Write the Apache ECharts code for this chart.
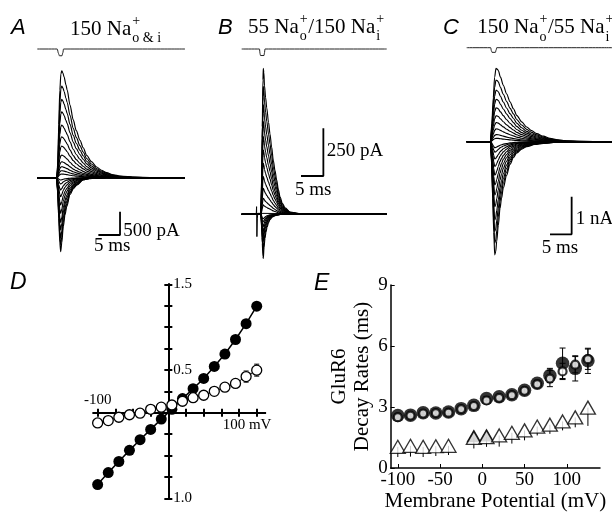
<!DOCTYPE html>
<html><head><meta charset="utf-8">
<script src="https://cdn.jsdelivr.net/npm/echarts@6/dist/echarts.min.js"></script>
<style>html,body{margin:0;padding:0;background:#fff}#c{width:612px;height:513px}</style>
</head><body><div id="c"></div>
<script>
// ================= DATA =================
// Panel A: 150 Na o&i  (time in ms, current in pA)
const tA_pos = [0,4.5,4.75,4.95,5.2,5.45,5.65,5.9,6.2,6.6,6.9,7.55,8.3,9.0,9.85,10.6,11.4,12.5,13.7,14.8,16.0,17.5,19.1,22.6,26,34.1];
const shapeA_pos = [0,0,0.15,0.5,0.82,0.97,1.0,0.98,0.94,0.87,0.82,0.68,0.54,0.44,0.35,0.28,0.21,0.15,0.10,0.07,0.047,0.028,0.015,0.004,0.001,0];
const tA_neg = [0,4.45,4.7,4.95,5.2,5.4,5.65,6.0,6.4,6.8,7.55,8.3,9.1,10.6,12,13.3,16,34.1];
const shapeA_neg = [0,0,0.2,0.55,0.88,1.0,0.88,0.66,0.5,0.39,0.23,0.15,0.1,0.03,0.012,0.005,0.001,0];
const peakA_pos = [2296,1967,1681,1416,1130,880,680,487,343,236,150,79];
const peakA_neg = [-1588,-1445,-1302,-1123,-966,-766,-587,-408,-265,-136,-50];
const stimA_t = [0,4.6,4.9,5.1,5.7,5.9,6.05,34.1];
const stimA_v = [0,0,-0.6,-0.9,-0.9,-0.5,0,0];
const scaleA = [[14.1,-1230],[19.1,-1230],[19.1,-730]]; // 5 ms x 500 pA

// Panel B: 55 Na o / 150 Na i (pA)
const tB_pos = [0,4.3,4.45,4.6,4.75,4.83,4.95,5.1,5.35,5.6,6.0,6.33,6.7,7.07,7.45,7.83,8.2,8.57,9.1,9.7,10.8,13,32.44];
const shapeB_pos = [0,0,0.25,0.6,0.92,1.0,0.97,0.88,0.8,0.73,0.63,0.55,0.46,0.37,0.3,0.235,0.17,0.12,0.075,0.045,0.015,0.004,0];
const tB_neg = [0,4.3,4.45,4.6,4.75,4.83,5.0,5.2,5.45,5.66,6.0,6.33,6.9,7.45,8.57,32.44];
const shapeB_neg = [0,0,0.3,0.65,0.95,1.0,0.75,0.55,0.4,0.3,0.19,0.12,0.06,0.03,0.005,0];
const peakB_pos = [765,669,573,486,407,337,267,197,136,84,49];
const peakB_neg = [-231,-187,-143,-117,-91,-65,-44,-26];
const artB_t = [0,3.25,3.33,3.4,3.5,3.6,3.8,32.44];
const artB_v = [0,0,40,-117,-20,5,0,0];
const stimB_t = [0,3.98,4.1,4.2,4.99,5.1,5.2,32.44];
const stimB_v = [0,0,-0.6,-0.87,-0.87,-0.5,0,0];
const scaleB = [[13.27,200.7],[18.27,200.7],[18.27,450.7]]; // 5 ms x 250 pA

// Panel C: 150 Na o / 55 Na i (nA)
const tC_pos = [0,5.5,5.8,6.14,6.45,6.77,7.05,7.3,7.8,8.45,9.24,10.0,10.8,11.55,12.7,13.86,15,16.17,17.7,19.24,21,23.1,26,33.56];
const shapeC_pos = [0,0,0.25,0.6,0.88,1.0,0.99,0.97,0.88,0.77,0.65,0.545,0.45,0.36,0.27,0.2,0.15,0.11,0.075,0.045,0.025,0.01,0.004,0];
const tC_neg = [0,5.5,5.75,6.0,6.25,6.47,6.7,6.93,7.3,7.69,8.05,8.45,9.2,10.0,10.8,11.55,12.7,13.86,15.7,17.7,20,23.1,33.56];
const shapeC_neg = [0,0,0.2,0.5,0.8,1.0,0.97,0.88,0.74,0.59,0.5,0.41,0.3,0.2,0.14,0.1,0.065,0.044,0.025,0.015,0.007,0.003,0];
const peakC_pos = [1.95,1.64,1.37,1.13,0.90,0.69,0.51,0.34,0.19,0.09];
const peakC_neg = [-3.01,-2.70,-2.39,-2.08,-1.73,-1.42,-1.15,-0.89,-0.66,-0.46,-0.28,-0.16];
const stimC_t = [0,5.54,5.7,5.84,6.63,6.8,6.93,33.56];
const stimC_v = [0,0,-0.4,-0.62,-0.62,-0.3,0,0];
const scaleC = [[19.24,-2.463],[24.24,-2.463],[24.24,-1.463]]; // 5 ms x 1 nA

// Panel D: I-V (normalized current vs mV)
const voltD = [-100,-85,-70,-55,-40,-25,-10,5,20,35,50,65,80,95,110,125];
const filledD = [-0.84,-0.70,-0.57,-0.44,-0.315,-0.195,-0.075,0.04,0.165,0.28,0.40,0.54,0.685,0.855,1.04,1.245];
const openD = [-0.12,-0.092,-0.053,-0.024,-0.006,0.04,0.065,0.09,0.134,0.175,0.204,0.25,0.298,0.342,0.422,0.497];
const openErrD = [0.02,0.02,0.02,0.02,0.02,0.02,0.02,0.02,0.02,0.02,0.02,0.03,0.03,0.045,0.065,0.07];
const dXTicks = [-100,-75,-50,-25,25,50,75,100,125];
const dYTicks = [-1,-0.75,-0.5,-0.25,0.25,0.5,0.75,1,1.25,1.5];
const dXLabelTop = {'-100':'-100'};
const dXLabelBottom = {'100':'100 mV'};
const dYLabels = {'1.5':'1.5','0.5':'0.5','-1':'1.0'};

// Panel E: decay rates (ms) vs membrane potential (mV)
const voltE = [-100,-85,-70,-55,-40,-25,-10,5,20,35,50,65,80,95,110,125];
const filledE = [2.58,2.6,2.72,2.7,2.75,2.92,3.08,3.42,3.5,3.6,3.82,4.17,4.55,5.15,4.9,5.27];
const filledErrE = [0.08,0.08,0.08,0.08,0.08,0.08,0.1,0.1,0.1,0.1,0.12,0.15,0.35,0.75,0.62,0.62];
const openE = [2.5,2.58,2.68,2.7,2.72,2.9,3.05,3.32,3.45,3.58,3.8,4.12,4.4,4.75,5.08,5.35];
const openErrE = [0.08,0.08,0.08,0.08,0.08,0.08,0.1,0.1,0.1,0.1,0.12,0.15,0.4,0.4,0.4,0.5];
const triE = [1.04,1.09,1.04,1.07,1.09,null,1.48,1.52,1.6,1.73,1.85,2.04,2.13,2.29,2.49,2.97];
const triErrE = [0.5,0.53,0.5,0.48,0.45,null,0.52,0.48,0.55,0.53,0.49,0.44,0.45,0.44,0.49,0.9];
const triFilledE = [null,null,null,null,null,null,1.58,1.62,null,null,null,null,null,null,null,null];
const eXTicks = [-100,-50,0,50,100];

// ================= BUILD =================
const SERIF = '"Liberation Serif","Times New Roman",serif';
const SANS = '"Liberation Sans",Arial,sans-serif';
const INK = '#000';

const grids = [
  {left:37.3, top:60, width:147.7, height:200},   // 0 A traces
  {left:37.3, top:45.25, width:147.7, height:15}, // 1 A stim
  {left:241.7, top:60, width:145, height:205},    // 2 B traces
  {left:241.7, top:45.25, width:145, height:15},  // 3 B stim
  {left:466.7, top:60, width:145.3, height:202},  // 4 C traces
  {left:466.7, top:43.95, width:145.3, height:15},// 5 C stim
  {left:93.4, top:284.3, width:171.8, height:214},// 6 D
  {left:390.7, top:285, width:209.3, height:186.7}// 7 E
];
const hid = (g, min, max) => ({gridIndex:g, type:'value', min, max, show:false});
const xAxes = [
  hid(0,0,34.1), hid(1,0,34.1), hid(2,0,32.44), hid(3,0,32.44), hid(4,0,33.56), hid(5,0,33.56)
];
const yAxes = [
  hid(0,-1766,2526), hid(1,-1.5,0.5), hid(2,-265.7,808.5), hid(3,-1.5,0.5), hid(4,-3.2,2.173), hid(5,-1.5,0.5)
];
const axLine = {onZero:false, lineStyle:{color:INK, width:2}};
// D axes: lines crossing at (0,0); positions set through offsets from the grid edges
const dGrid = grids[6];
const dZeroY = dGrid.top + dGrid.height * (1.5 / 2.5);     // y of value 0
const dZeroX = dGrid.left + dGrid.width * (106 / 243);     // x of 0 mV
xAxes.push({gridIndex:6, type:'value', min:-106, max:137, position:'bottom',
  offset: -(dGrid.top + dGrid.height - dZeroY),
  axisLine:axLine, splitLine:{show:false},
  axisTick:{show:true, customValues:dXTicks, length:4, lineStyle:{color:INK,width:2}},
  axisLabel:{customValues:[100], formatter:v=>dXLabelBottom[String(v)]||'', margin:5, padding:[0,0,0,16],
    fontFamily:SERIF, fontSize:15, color:INK}});
xAxes.push({gridIndex:6, type:'value', min:-106, max:137, position:'top',
  offset: -(dZeroY - dGrid.top),
  axisLine:axLine, splitLine:{show:false},
  axisTick:{show:true, customValues:dXTicks, length:4, lineStyle:{color:INK,width:2}},
  axisLabel:{customValues:[-100], formatter:v=>dXLabelTop[String(v)]||'', margin:5,
    fontFamily:SERIF, fontSize:15, color:INK}});
yAxes.push({gridIndex:6, type:'value', min:-1, max:1.5, position:'left',
  offset: -(dZeroX - dGrid.left),
  axisLine:axLine, splitLine:{show:false},
  axisTick:{show:true, customValues:dYTicks, length:4, lineStyle:{color:INK,width:2}},
  axisLabel:{customValues:[-1,0.5,1.5], inside:true, formatter:v=>dYLabels[String(v)]||'', margin:5,
    fontFamily:SERIF, fontSize:15, color:INK}});
yAxes.push({gridIndex:6, type:'value', min:-1, max:1.5, position:'right',
  offset: -(dGrid.left + dGrid.width - dZeroX),
  axisLine:axLine, splitLine:{show:false},
  axisTick:{show:true, customValues:dYTicks, length:4, lineStyle:{color:INK,width:2}},
  axisLabel:{show:false}});
// E axes (index 8)
xAxes.push({gridIndex:7, type:'value', min:-108.4, max:139.3,
  axisLine:{onZero:false, lineStyle:{color:INK,width:1.5}}, splitLine:{show:false},
  axisTick:{show:true, inside:true, customValues:eXTicks, length:4, lineStyle:{color:INK}},
  axisLabel:{customValues:eXTicks, margin:3, fontFamily:SERIF, fontSize:19, color:INK},
  name:'Membrane Potential (mV)', nameLocation:'middle', nameGap:23,
  nameTextStyle:{fontFamily:SERIF, fontSize:21, color:INK}});
yAxes.push({gridIndex:7, type:'value', min:0, max:9, interval:3,
  axisLine:{show:true, onZero:false, lineStyle:{color:INK,width:1.5}}, splitLine:{show:false},
  axisTick:{show:true, inside:true, length:4, lineStyle:{color:INK}},
  axisLabel:{margin:3, fontFamily:SERIF, fontSize:19, color:INK},
  name:'GluR6\nDecay Rates (ms)', nameLocation:'middle', nameRotate:90, nameGap:17,
  nameTextStyle:{fontFamily:SERIF, fontSize:21, lineHeight:23, color:INK}});

const series = [];
function lineS(ax, data, width, color, z) {
  series.push({type:'line', xAxisIndex:ax, yAxisIndex:ax, data, symbol:'none', silent:true,
    smooth:0.3, smoothMonotone:'x', lineStyle:{color:color||INK, width:width||1}, z:z||2});
}
function traces(ax, amps, ts, shape) {
  amps.forEach(a => lineS(ax, ts.map((t,i)=>[t, a*shape[i]]), 1.15, INK, 2));
}
function plain(ax, data, width) {
  series.push({type:'line', xAxisIndex:ax, yAxisIndex:ax, data, symbol:'none', silent:true,
    lineStyle:{color:INK, width}, z:3});
}
const zip = (a,b) => a.map((v,i)=>[v,b[i]]);

traces(0, peakA_pos, tA_pos, shapeA_pos);
traces(0, peakA_neg, tA_neg, shapeA_neg);
plain(0, scaleA, 1.8);
lineS(1, zip(stimA_t, stimA_v), 1, '#222');

traces(2, peakB_pos, tB_pos, shapeB_pos);
traces(2, peakB_neg, tB_neg, shapeB_neg);
plain(2, zip(artB_t, artB_v), 1);
plain(2, scaleB, 1.8);
lineS(3, zip(stimB_t, stimB_v), 1, '#222');

traces(4, peakC_pos, tC_pos, shapeC_pos);
traces(4, peakC_neg, tC_neg, shapeC_neg);
plain(4, scaleC, 1.8);
lineS(5, zip(stimC_t, stimC_v), 1, '#222');

function errRender(capW, lowerOnly) {
  return function(params, api) {
    const x = api.value(0), y = api.value(1), e = api.value(2);
    const lo = api.coord([x, y - e]), hi = api.coord([x, lowerOnly ? y : y + e]);
    const st = {stroke:INK, lineWidth:1};
    const ch = [{type:'line', shape:{x1:lo[0],y1:lo[1],x2:hi[0],y2:hi[1]}, style:st},
      {type:'line', shape:{x1:lo[0]-capW,y1:lo[1],x2:lo[0]+capW,y2:lo[1]}, style:st}];
    if (!lowerOnly) ch.push({type:'line', shape:{x1:hi[0]-capW,y1:hi[1],x2:hi[0]+capW,y2:hi[1]}, style:st});
    return {type:'group', children:ch};
  };
}
function errS(ax, xs, ys, es, capW, lowerOnly, z) {
  const data = xs.map((x,i)=> ys[i]==null ? null : [x, ys[i], es[i]]).filter(d=>d);
  series.push({type:'custom', xAxisIndex:ax, yAxisIndex:ax, data, silent:true, z,
    encode:{x:0, y:1}, renderItem:errRender(capW, lowerOnly)});
}

// D series (axes 6)
series.push({type:'line', xAxisIndex:6, yAxisIndex:6, data:zip(voltD, filledD), symbol:'circle', symbolSize:11,
  itemStyle:{color:INK}, lineStyle:{color:INK, width:1.5}, z:4, silent:true});
errS(6, voltD, openD, openErrD, 2.5, false, 5);
series.push({type:'line', xAxisIndex:6, yAxisIndex:6, data:zip(voltD, openD), symbol:'circle', symbolSize:10,
  itemStyle:{color:'#fff', borderColor:INK, borderWidth:1.3}, lineStyle:{color:INK, width:1}, z:6, silent:true});

// E series (axes 8)
errS(8, voltE, filledE, filledErrE, 3, false, 3);
errS(8, voltE, openE, openErrE, 3, false, 3);
errS(8, voltE, triE, triErrE, 0, true, 3);
series.push({type:'scatter', xAxisIndex:8, yAxisIndex:8, data:zip(voltE, filledE), symbol:'circle', symbolSize:13.5,
  itemStyle:{color:INK}, z:4, silent:true});
series.push({type:'scatter', xAxisIndex:8, yAxisIndex:8, data:zip(voltE, openE), symbol:'circle', symbolSize:8,
  itemStyle:{color:'#fff', borderColor:INK, borderWidth:2.2}, z:5, silent:true});
series.push({type:'scatter', xAxisIndex:8, yAxisIndex:8, data:zip(voltE, triFilledE).filter(d=>d[1]!=null), symbol:'triangle', symbolSize:[15,13],
  itemStyle:{color:INK}, z:4, silent:true});
series.push({type:'scatter', xAxisIndex:8, yAxisIndex:8, data:zip(voltE, triE).filter(d=>d[1]!=null), symbol:'triangle', symbolSize:[15,13],
  itemStyle:{color:'#fff', borderColor:INK, borderWidth:1.3}, z:5, silent:true});

// ================= TEXT =================
const mctx = document.createElement('canvas').getContext('2d');
function tw(text, size) { mctx.font = size + 'px ' + SERIF; return mctx.measureText(text).width; }
function txt(text, x, y, size, o) {
  o = o || {};
  const font = (o.italic?'italic ':'') + size + 'px ' + (o.sans?SANS:SERIF);
  return {type:'text', x, y, rotation:o.rotation||0, silent:true, z:100,
    style:{text, fill:INK, font, align:o.align||'left', verticalAlign:'middle',
      textAlign:o.align||'left', textVerticalAlign:'middle'}};
}
const TS = 21, SS = 14;
function title(x0, y, parts) {
  let x = x0; const els = [];
  parts.forEach(p => {
    if (typeof p === 'string') { els.push(txt(p, x, y, TS)); x += tw(p, TS); }
    else { els.push(txt(p[0], x+1, y-8, SS)); els.push(txt(p[1], x+1, y+9.5, SS));
      x += Math.max(tw(p[0],SS), tw(p[1],SS)) + 1.5; }
  });
  return els;
}
const texts = [
  txt('A', 11, 27.5, 22, {italic:true, sans:true}),
  txt('B', 218, 27.8, 22, {italic:true, sans:true}),
  txt('C', 443, 27.8, 22, {italic:true, sans:true}),
  txt('D', 10, 282.5, 23, {italic:true, sans:true}),
  txt('E', 314, 283.3, 23, {italic:true, sans:true}),
  ...title(70, 29, ['150 Na', ['+','o & i']]),
  ...title(248, 27, ['55 Na', ['+','o'], '/150 Na', ['+','i']]),
  ...title(477.3, 27.5, ['150 Na', ['+','o'], '/55 Na', ['+','i']]),
  txt('500 pA', 123.3, 230.8, 19),
  txt('5 ms', 94, 246.5, 19),
  txt('250 pA', 326.7, 150.8, 19),
  txt('5 ms', 295, 190, 19),
  txt('1 nA', 575.7, 218.8, 19),
  txt('5 ms', 541.7, 248, 19)
];

const chart = echarts.init(document.getElementById('c'), null, {renderer:'canvas'});
chart.setOption({animation:false, backgroundColor:'#fff', grid:grids, xAxis:xAxes, yAxis:yAxes,
  series, graphic:{elements:texts}});
</script></body></html>
